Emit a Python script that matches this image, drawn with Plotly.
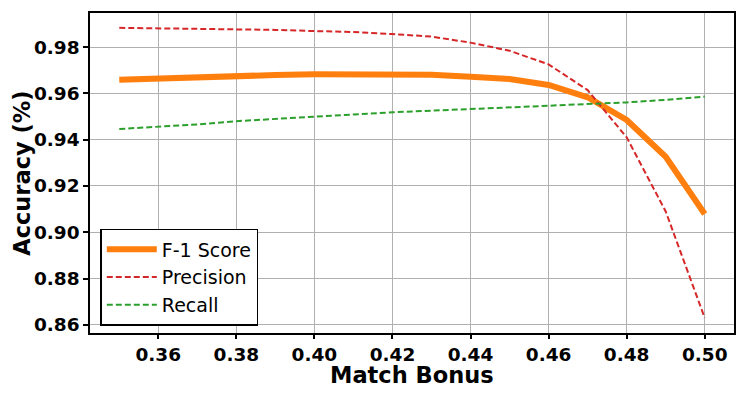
import plotly.graph_objects as go

match_bonus = [0.35, 0.36, 0.37, 0.38, 0.39, 0.40, 0.41, 0.42,
               0.43, 0.44, 0.45, 0.46, 0.47, 0.48, 0.49, 0.50]
f1_score = [0.9659, 0.9665, 0.9670, 0.9675, 0.9679, 0.9682, 0.9683, 0.9683,
            0.9680, 0.9672, 0.9662, 0.9636, 0.9583, 0.9485, 0.9326, 0.9079]
precision = [0.9883, 0.9881, 0.9879, 0.9876, 0.9874, 0.9869, 0.9865, 0.9856,
             0.9845, 0.9819, 0.9784, 0.9725, 0.9614, 0.9410, 0.9090, 0.8630]
recall = [0.9446, 0.9456, 0.9466, 0.9480, 0.9490, 0.9499, 0.9509, 0.9518,
          0.9525, 0.9532, 0.9538, 0.9545, 0.9552, 0.9561, 0.9572, 0.9586]

x_ticks = [0.36, 0.38, 0.40, 0.42, 0.44, 0.46, 0.48, 0.50]
y_ticks = [0.86, 0.88, 0.90, 0.92, 0.94, 0.96, 0.98]

fig = go.Figure()
fig.add_trace(go.Scatter(x=match_bonus, y=f1_score, name="F-1 Score", mode="lines",
                         line=dict(color="#ff7f0e", width=6)))
fig.add_trace(go.Scatter(x=match_bonus, y=precision, name="Precision", mode="lines",
                         line=dict(color="#d62728", width=2, dash="6px,3px")))
fig.add_trace(go.Scatter(x=match_bonus, y=recall, name="Recall", mode="lines",
                         line=dict(color="#2ca02c", width=2, dash="6px,3px")))

axis_common = dict(
    showline=True, linecolor="black", linewidth=1.5, mirror=True,
    ticks="outside", tickwidth=1.5, tickcolor="black",
    showgrid=True, gridcolor="#b0b0b0", gridwidth=1, zeroline=False,
    automargin=False,
    tickfont=dict(family="DejaVu Sans", size=18.5, color="black", weight="bold"),
)

fig.update_layout(
    width=748, height=397,
    margin=dict(l=90, r=14, t=13, b=64),
    plot_bgcolor="white", paper_bgcolor="white",
    font=dict(family="DejaVu Sans", color="black"),
    xaxis=dict(range=[0.3425, 0.5075], tickvals=x_ticks,
               ticktext=[f"{v:.2f}" for v in x_ticks],
               ticklen=4, **axis_common),
    yaxis=dict(range=[0.8565, 0.9947], tickvals=y_ticks,
               ticktext=[f"{v:.2f}" for v in y_ticks],
               ticklen=5, **axis_common),
    legend=dict(x=0.016, y=0.022, xanchor="left", yanchor="bottom",
                bgcolor="white", bordercolor="black", borderwidth=1.5,
                itemwidth=50, font=dict(size=19)),
    showlegend=True,
)

# axis titles placed as annotations so they sit where the reference has them
title_font = dict(family="DejaVu Sans", size=22.5, color="black", weight="bold")
fig.add_annotation(text="Match Bonus", xref="paper", yref="paper",
                   x=0.5, y=-0.131, xanchor="center", yanchor="middle",
                   showarrow=False, font=title_font)
fig.add_annotation(text="Accuracy (%)", xref="paper", yref="paper",
                   x=-0.106, y=0.5, xanchor="center", yanchor="middle",
                   textangle=-90, showarrow=False, font=title_font)

# drop the page's default body margin so the figure sits at the window corner
fig.write_html("out.html", config={"displayModeBar": False},
               post_script="document.body.style.margin='0';")
